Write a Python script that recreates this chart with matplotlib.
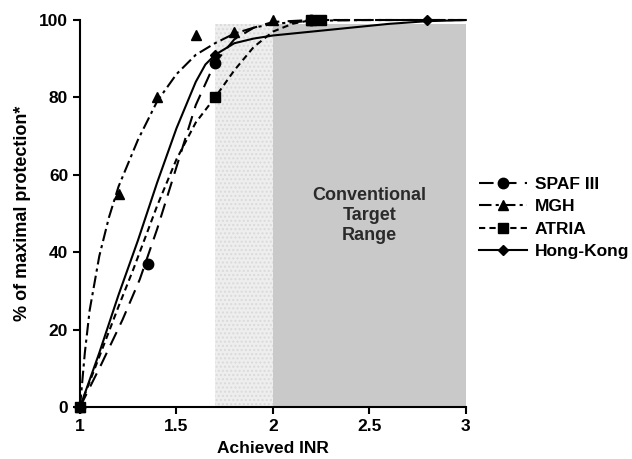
import matplotlib.pyplot as plt

plt.rcParams['font.family'] = ['Liberation Sans', 'DejaVu Sans']
plt.rcParams['font.weight'] = 'bold'

# fitted curves
spaf_x = [1.0, 1.06, 1.11, 1.22, 1.31, 1.4, 1.5, 1.6, 1.7, 1.8, 1.9, 2.0, 2.2, 2.5, 3.0]
spaf_y = [0, 6, 11, 22.5, 33, 46, 62, 78, 89, 95, 98, 99.5, 100, 100, 100]
mgh_x = [1.0, 1.025, 1.05, 1.1, 1.15, 1.2, 1.3, 1.4, 1.5, 1.6, 1.7, 1.8, 1.9, 2.0, 2.2, 2.5, 3.0]
mgh_y = [0, 14, 25, 39, 49, 57, 69, 79, 86, 91, 94, 96.5, 98, 99, 99.8, 100, 100]
atria_x = [1.0, 1.1, 1.2, 1.275, 1.4, 1.5, 1.6, 1.7, 1.8, 1.9, 2.0, 2.1, 2.2, 2.5, 3.0]
atria_y = [0, 13, 26, 35.4, 52, 64, 73.5, 80, 87, 93, 97, 99, 100, 100, 100]
hk_x = [1.0, 1.1, 1.2, 1.3, 1.4, 1.5, 1.6, 1.65, 1.7, 1.8, 1.9, 2.0, 2.2, 2.4, 2.6, 2.8, 3.0]
hk_y = [0, 14, 29, 43, 58, 72, 84, 88.5, 91, 94, 95.2, 96, 97, 98, 99, 99.7, 100]

# observed points
spaf_px = [1.0, 1.35, 1.7, 2.2]
spaf_py = [0, 37, 89, 100]
mgh_px = [1.0, 1.2, 1.4, 1.6, 1.8, 2.0, 2.2]
mgh_py = [0, 55, 80, 96, 97, 100, 100]
atria_px = [1.0, 1.7, 2.2, 2.25]
atria_py = [0, 80, 100, 100]
hk_px = [1.0, 1.7, 2.8]
hk_py = [0, 91, 100]

fig = plt.figure(figsize=(6.32, 4.59), dpi=100)
ax = fig.add_axes([0.1266, 0.1133, 0.6104, 0.8431])

ax.axvspan(1.7, 2.0, ymax=0.99, facecolor='#eeeeee', edgecolor='#dadada', hatch='....', linewidth=0)
ax.axvspan(2.0, 3.0, ymax=0.99, facecolor='#c9c9c9', linewidth=0)

ax.text(2.5, 49.5, 'Conventional\nTarget\nRange', ha='center', va='center',
        fontsize=13, fontweight='bold', color='#2a2a2a', linespacing=1.2)

series = [
    ('SPAF III', spaf_x, spaf_y, spaf_px, spaf_py, 'o', (0, (7, 4)), 7.5),
    ('MGH', mgh_x, mgh_y, mgh_px, mgh_py, '^', (0, (6, 2, 1.5, 2)), 7.5),
    ('ATRIA', atria_x, atria_y, atria_px, atria_py, 's', (0, (3, 2)), 7.5),
    ('Hong-Kong', hk_x, hk_y, hk_px, hk_py, 'D', '-', 5.5),
]
handles = []
for name, cx, cy, px, py, mk, ls, ms in series:
    ax.plot(cx, cy, color='black', linestyle=ls, linewidth=1.5, clip_on=False)
    ax.plot(px, py, linestyle='none', marker=mk, markersize=ms, color='black', clip_on=False)
    h, = ax.plot([], [], color='black', linestyle=ls, linewidth=1.5, marker=mk, markersize=ms, label=name)
    handles.append(h)

ax.set_xlim(1, 3)
ax.set_ylim(0, 100)
ax.set_xticks([1, 1.5, 2, 2.5, 3])
ax.set_xticklabels(['1', '1.5', '2', '2.5', '3'])
ax.set_yticks([0, 20, 40, 60, 80, 100])
ax.tick_params(labelsize=12.5, width=1.5, length=5, direction='out')
for lab in ax.get_xticklabels() + ax.get_yticklabels():
    lab.set_fontweight('bold')
ax.spines['top'].set_visible(False)
ax.spines['right'].set_visible(False)
ax.spines['left'].set_linewidth(1.5)
ax.spines['bottom'].set_linewidth(1.5)
ax.set_xlabel('Achieved INR', fontsize=12.5, fontweight='bold', labelpad=5)
ax.set_ylabel('% of maximal protection*', fontsize=13, fontweight='bold', labelpad=6)

fig.legend(handles=handles, loc='center left', bbox_to_anchor=(0.738, 0.525),
           frameon=False, handlelength=2.8, handletextpad=0.45, borderaxespad=0.3,
           labelspacing=0.42, prop={'weight': 'bold', 'size': 12.5})

fig.savefig('out.png', dpi=100)
